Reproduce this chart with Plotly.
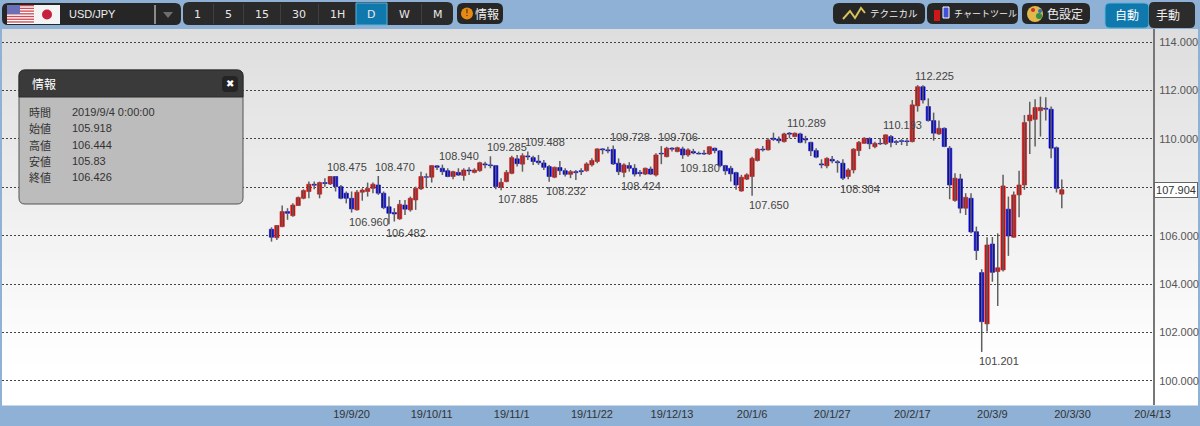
import plotly.graph_objects as go

open_ = [106.27,105.918,106.38,107.00,106.83,107.25,107.55,107.83,108.13,107.72,
108.20,108.14,108.45,108.03,107.76,107.55,107.07,107.80,107.83,107.96,
108.10,107.76,107.20,106.96,106.70,107.27,107.07,107.48,107.94,108.44,
108.42,108.89,108.79,108.69,108.45,108.62,108.49,108.72,108.62,108.69,
108.97,108.93,108.90,108.00,108.24,108.58,109.18,108.96,109.30,109.23,
109.09,109.01,108.86,108.42,108.82,108.69,108.54,108.65,108.69,108.69,
108.93,109.07,109.59,109.55,109.57,109.00,108.62,108.90,108.79,108.62,
108.55,108.76,108.51,109.41,109.27,109.62,109.48,109.59,109.34,109.48,
109.41,109.41,109.38,109.62,109.51,108.90,108.79,108.61,107.85,108.34,
108.45,109.11,109.58,109.55,110.03,110.00,109.89,110.24,110.10,110.21,
110.00,109.86,109.52,108.97,108.89,109.16,109.06,109.00,108.45,108.72,
109.52,109.82,110.02,109.68,109.82,109.80,110.10,109.89,109.93,109.92,
109.89,111.37,112.16,111.34,110.76,110.21,110.44,109.62,107.46,108.35,
107.14,107.55,106.17,104.48,102.36,105.66,104.52,104.59,107.10,105.94,
107.69,108.10,110.75,110.81,111.17,111.27,111.23,109.64,107.72]

close = [105.94,106.426,107.00,106.93,107.27,107.58,107.87,108.13,108.09,108.20,
108.16,108.45,108.03,107.55,107.55,107.11,107.80,107.89,107.96,108.13,
107.76,107.16,106.93,106.90,107.30,107.10,107.55,107.96,108.45,108.42,
108.90,108.83,108.65,108.45,108.65,108.51,108.72,108.68,108.72,109.02,
108.93,108.90,108.03,108.21,108.62,109.23,108.98,109.31,109.26,109.07,
109.02,108.83,108.45,108.83,108.69,108.54,108.65,108.61,108.65,108.97,
109.11,109.59,109.55,109.51,108.97,108.65,108.93,108.79,108.55,108.57,
108.79,108.55,109.34,109.38,109.62,109.58,109.64,109.34,109.55,109.42,
109.38,109.38,109.68,109.52,108.90,108.68,108.56,108.10,108.42,108.52,
109.20,109.58,109.55,109.96,109.98,109.93,110.21,110.20,110.24,109.86,
109.96,109.51,109.25,108.93,109.20,109.09,109.02,108.38,108.72,109.58,
109.86,110.03,109.80,109.82,109.80,110.17,109.86,109.86,109.90,109.89,
111.41,112.16,111.61,110.76,110.24,110.44,109.69,108.10,108.38,107.14,
107.59,106.16,105.39,102.45,105.62,104.49,104.68,108.06,105.99,107.69,
108.10,110.68,110.99,111.30,111.30,111.23,109.62,107.96,107.904]

high = [106.35,106.444,107.25,107.14,107.34,107.62,107.92,108.24,108.24,108.24,
108.38,108.475,108.47,108.10,107.83,107.83,107.89,107.96,108.20,108.20,
108.47,107.83,107.62,107.14,107.48,107.48,107.62,108.03,108.65,108.58,
108.92,108.93,108.94,108.79,108.69,108.79,108.79,108.83,108.79,109.06,
109.06,109.285,108.93,108.38,108.72,109.31,109.34,109.41,109.488,109.31,
109.34,109.13,108.93,108.86,109.09,108.79,108.72,108.72,108.79,109.04,
109.20,109.62,109.62,109.68,109.728,109.20,109.00,109.04,108.96,108.72,
108.82,108.86,109.41,109.706,109.68,109.66,109.68,109.68,109.62,109.59,
109.48,109.55,109.70,109.64,109.55,108.93,108.89,108.65,108.52,108.58,
109.27,109.62,109.71,110.03,110.26,110.10,110.26,110.289,110.27,110.26,
110.13,109.89,109.62,109.16,109.25,109.30,109.13,109.16,108.79,109.62,
109.92,110.07,110.07,109.89,110.03,110.193,110.17,109.96,109.99,109.99,
111.61,112.225,112.22,111.68,111.09,110.76,110.48,109.71,108.58,108.56,
107.76,107.76,106.38,104.62,105.94,105.95,106.10,108.52,107.62,107.83,
108.69,110.99,111.54,111.64,111.75,111.72,111.34,109.69,108.33]

low = [105.76,105.83,106.35,106.66,106.79,107.23,107.51,107.55,107.92,107.55,
108.03,108.10,107.83,107.51,107.34,106.96,107.04,107.45,107.62,107.76,
107.69,107.10,106.482,106.59,106.66,106.86,107.00,107.07,107.89,107.99,
108.20,108.72,108.51,108.42,108.34,108.47,108.28,108.51,108.58,108.65,
108.79,108.79,107.92,107.885,108.21,108.54,108.86,108.65,109.13,108.93,
108.93,108.72,108.232,108.38,108.51,108.45,108.38,108.31,108.51,108.65,
108.86,109.00,109.37,109.41,108.93,108.51,108.424,108.65,108.45,108.45,
108.51,108.51,108.45,108.96,109.24,109.48,109.45,109.18,109.27,109.37,
109.37,109.34,109.34,109.41,108.83,108.52,108.24,107.90,107.82,108.31,
107.650,109.07,109.48,109.52,109.92,109.82,109.86,110.03,110.07,109.82,
109.82,109.30,109.20,108.79,108.79,109.00,108.61,108.304,108.34,108.58,
109.30,109.80,109.58,109.62,109.75,109.75,109.66,109.75,109.75,109.71,
109.86,111.13,111.47,110.72,109.93,110.17,109.66,107.51,107.41,106.93,
106.86,106.10,105.00,101.201,102.04,104.10,103.10,104.52,105.17,105.92,
106.77,107.90,109.38,109.69,110.10,110.76,109.20,107.79,107.14]

peak_index = [11,20,32,41,48,64,73,97,115,121]
trough_index = [15,22,43,52,66,77,90,107,133]
date_ticks = [15,30,45,60,75,90,105,120,135,150,165]
date_labels = ["19/9/20","19/10/11","19/11/1","19/11/22","19/12/13","20/1/6","20/1/27","20/2/17","20/3/9","20/3/30","20/4/13"]
price_ticks = [100,102,104,106,108,110,112,114]
price_labels = ["100.000","102.000","104.000","106.000","","110.000","112.000","114.000"]
current_price = 107.904
periods = ["1","5","15","30","1H","D","W","M"]
period_x = [197,228,262,299,337,371,404,438]
info_names = ["時間","始値","高値","安値","終値"]
info_values = ["2019/9/4 0:00:00","105.918","106.444","105.83","106.426"]

W, H = 1200, 426
LAT = "Liberation Sans"; DJ = "DejaVu Sans"; JP = "Noto Sans CJK JP"
shapes, notes = [], []
def X(p): return p / W
def Y(p): return 1 - p / H
def rect(x0, y0, x1, y1, fill, line=None, layer="above", lw=1):
    shapes.append(dict(type="rect", xref="paper", yref="paper", x0=X(x0), x1=X(x1), y0=Y(y0), y1=Y(y1),
                       fillcolor=fill, line=dict(color=line or fill, width=lw if line else 0), layer=layer))
def rrect(x0, y0, x1, y1, r, fill, line=None, top_only=False, lw=1):
    a, b, c, d = X(x0), X(x1), Y(y0), Y(y1)
    rx, ry = r / W, r / H
    bot = f"L{b},{d} L{a},{d}" if top_only else f"L{b},{d+ry} Q{b},{d} {b-rx},{d} L{a+rx},{d} Q{a},{d} {a},{d+ry}"
    path = f"M{a+rx},{c} L{b-rx},{c} Q{b},{c} {b},{c-ry} {bot} L{a},{c-ry} Q{a},{c} {a+rx},{c} Z"
    shapes.append(dict(type="path", path=path, xref="paper", yref="paper", fillcolor=fill,
                       line=dict(color=line or fill, width=lw if line else 0), layer="above"))
def circle(cx, cy, r, fill, line=None):
    shapes.append(dict(type="circle", xref="paper", yref="paper", x0=X(cx-r), x1=X(cx+r), y0=Y(cy+r), y1=Y(cy-r),
                       fillcolor=fill, line=dict(color=line or fill, width=0), layer="above"))
def poly(pts, stroke=None, fill=None, w=1.5, close=False):
    path = "M" + " L".join(f"{X(a)},{Y(b)}" for a, b in pts) + (" Z" if close else "")
    shapes.append(dict(type="path", path=path, xref="paper", yref="paper", fillcolor=fill or "rgba(0,0,0,0)",
                       line=dict(color=stroke or "rgba(0,0,0,0)", width=w if stroke else 0), layer="above"))
def text(x, y, s, size=11, color="#fff", font=LAT, anchor="center"):
    if anchor == "left":
        x -= 2
    notes.append(dict(xref="paper", yref="paper", x=X(x), y=Y(y), text=s, showarrow=False, xanchor=anchor,
                      yanchor="middle", font=dict(family=font, size=size, color=color)))

# page background and plot gradient
BLUE = "#8fb1d5"
rect(0, 0, W, H, BLUE, layer="below")
top, bottom = 29, 405
steps = 47
for k in range(steps):
    t = k / (steps - 1)
    v = round(222 + (255 - 222) * min(1, t * 1.1))
    rect(2, top + (bottom-top)*k/steps, 1198, top + (bottom-top)*(k+1)/steps + .5, f"rgb({v},{v},{v})", layer="below")

# symbol selector
DARK = "#262626"
rrect(2, 3, 181, 25, 6, DARK)
rect(7, 5, 34, 24, "#fff")
for k in range(7):
    rect(7, 5 + k*19/7, 34, 5 + (k+.5)*19/7, "#cf4b55")
rect(7, 5, 20, 14, "#6a6fb8")
rect(34, 5, 60, 24, "#f4f4f4")
circle(47, 14.5, 5, "#c8203c")
text(69, 14, "USD/JPY", 11, "#f0f0f0", LAT, "left")
rect(154.5, 5, 155.5, 24, "#eeeeee")
poly([(163, 12), (173, 12), (168, 18)], fill="#6e6e6e", close=True)

# period buttons
rrect(183, 2, 453, 25, 6, "#2a2a2a")
rect(356, 3, 387, 25, "#0f78ad", "#5fb4d8")
for sx in [213, 243, 280, 318, 421]:
    rect(sx, 4, sx+1, 24, "#3f3f3f")
for s, px in zip(periods, period_x):
    text(px, 14, s, 11, "#e8e8e8", DJ)
rrect(457, 3, 503, 24, 6, "#262626")
circle(467, 13.5, 6, "#e88a12")
text(467, 13.5, "!", 9, "#222", DJ)
text(487, 13.5, "情報", 12, "#eeeeee", JP)

# tool buttons
rrect(833, 3, 925, 24, 6, DARK)
poly([(843, 19), (850, 11), (855, 18), (861, 8), (865, 13)], "#d8c25a", w=2)
text(894, 13.5, "テクニカル", 9.5, "#eeeeee", JP)
rrect(927, 3, 1018, 24, 6, DARK)
rect(934, 10, 940, 21, "#d01818"); rect(943, 7, 949, 18, "#4050d8", "#ffffff")
text(985, 13.5, "チャートツール", 9, "#eeeeee", JP)
rrect(1022, 3, 1090, 24, 6, DARK)
circle(1035, 14, 8, "#e2b84a"); circle(1039, 16, 3, "#2f8f4a"); circle(1033, 10, 2, "#c83030"); circle(1040, 11, 2, "#3070c0")
text(1065, 13.5, "色設定", 12, "#eeeeee", JP)
rrect(1105, 3, 1149, 28, 5, "#0f78ad", "#5fb4d8")
text(1127, 15, "自動", 12, "#ffffff", JP)
rrect(1149, 2, 1195, 28, 5, "#2c2c2c")
text(1168, 15, "手動", 12, "#eeeeee", JP)

# info panel
rrect(19, 70, 243, 204, 6, "#bcbcbc", "#555555")
rrect(19, 70, 243, 97, 6, "#3a3a3a", "#2a2a2a", top_only=True)
text(32, 84, "情報", 12, "#ffffff", JP, "left")
rrect(222, 76, 238, 92, 4, "#242424")
text(230, 84, "✖", 10, "#ffffff", DJ)
for k, (a, b) in enumerate(zip(info_names, info_values)):
    yy = 112 + k * 16.3
    text(29, yy, a, 11, "#333333", JP, "left")
    text(72, yy, b, 11, "#333333", LAT, "left")

n = len(open_)
idx = list(range(n))
wick_x, wick_y = [], []
for i in idx:
    wick_x += [i, i, None]; wick_y += [low[i], high[i], None]
up = [i for i in idx if close[i] >= open_[i]]
down = [i for i in idx if close[i] < open_[i]]
def bars(ids, color):
    return go.Bar(x=ids, y=[abs(close[i]-open_[i]) for i in ids], base=[min(close[i], open_[i]) for i in ids],
                  width=0.8, marker=dict(color=color, line=dict(color=color, width=0.6)), hoverinfo="skip")
fig = go.Figure()
fig.add_trace(go.Scatter(x=wick_x, y=wick_y, mode="lines", line=dict(color="#5f5f5f", width=1.5), hoverinfo="skip"))
fig.add_trace(bars(up, "#cc1010"))
fig.add_trace(bars(down, "#0404cc"))

for i in peak_index:
    notes.append(dict(xref="x", yref="y", x=i, y=high[i], text=f"{high[i]:.3f}", showarrow=False, xshift=17, yshift=9,
                      yanchor="middle", font=dict(family=LAT, size=11, color="#444444")))
for i in trough_index:
    notes.append(dict(xref="x", yref="y", x=i, y=low[i], text=f"{low[i]:.3f}", showarrow=False, xshift=17, yshift=-9,
                      yanchor="middle", font=dict(family=LAT, size=11, color="#444444")))
notes.append(dict(xref="paper", yref="y", x=X(1176), y=current_price, text=f"{current_price:.3f}", showarrow=False,
                  xanchor="center", yanchor="middle",
                  bgcolor="#ffffff", bordercolor="#666666", borderwidth=1, borderpad=1, width=40,
                  font=dict(family=LAT, size=11, color="#333333")))

fig.update_layout(width=W, height=H, margin=dict(l=0, r=0, t=0, b=0, autoexpand=False), autosize=False,
    paper_bgcolor=BLUE, plot_bgcolor="rgba(0,0,0,0)", showlegend=False, barmode="overlay",
    shapes=shapes, annotations=notes,
    xaxis=dict(domain=[X(2), X(1153)], range=[-50.47, 165.08], tickmode="array", tickvals=date_ticks, ticktext=date_labels,
               showgrid=False, zeroline=False, showline=False, ticks="", ticklen=0, automargin=False, ticklabelstandoff=1,
               tickfont=dict(family=LAT, size=11, color="#333333")),
    yaxis=dict(domain=[Y(405), Y(29)], range=[99.008, 114.545], side="right", anchor="x", tickmode="array", tickvals=price_ticks,
               ticktext=price_labels, showgrid=True, griddash="2px,2px", gridcolor="#444444", gridwidth=1, zeroline=False,
               showline=True, linecolor="#777777", linewidth=2, ticks="", ticklen=0, automargin=False, ticklabelstandoff=2,
               tickfont=dict(family=LAT, size=11, color="#555555")))
fig.write_html("out.html", config=dict(displayModeBar=False, responsive=False),
               default_width="1200px", default_height="426px",
               post_script="document.body.style.margin='0';document.body.style.overflow='hidden';")
